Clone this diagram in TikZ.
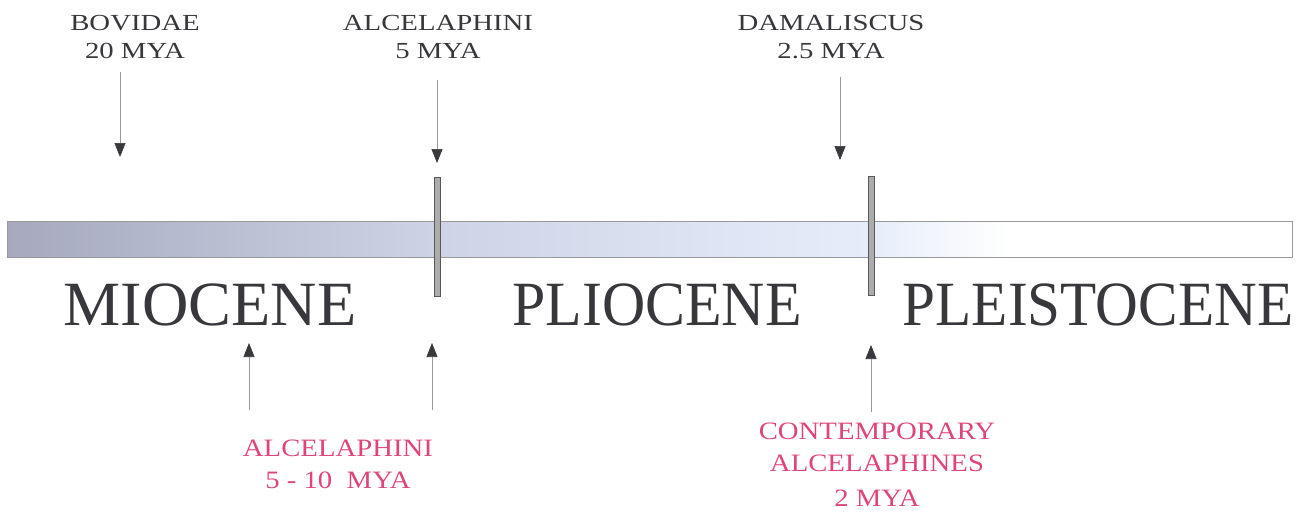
\documentclass[tikz,border=0pt]{standalone}
\usepackage{fontspec}
\setmainfont{Liberation Serif}
\usetikzlibrary{arrows.meta,positioning}
\definecolor{inkgray}{RGB}{55,55,60}
\definecolor{pinklabel}{RGB}{222,70,120}
\definecolor{barleft}{RGB}{166,169,189}
\definecolor{barmid}{RGB}{206,212,230}
\definecolor{barlight}{RGB}{230,237,250}
\pgfdeclarehorizontalshading{timebar}{100bp}{color(0bp)=(barleft); color(25bp)=(barleft);
  color(42bp)=(barmid); color(58.6bp)=(barlight); color(64bp)=(white); color(100bp)=(white)}
\tikzset{
  toplabel/.style={inner sep=0pt, anchor=north, align=center, text=inkgray,
    font=\fontsize{23}{28}\selectfont, xscale=1.25},
  botlabel/.style={inner sep=0pt, anchor=north, align=center, text=pinklabel,
    font=\fontsize{25}{32}\selectfont, xscale=1.15},
  epoch/.style={inner sep=0pt, anchor=base, text=inkgray, font=\fontsize{63}{70}\selectfont},
  pointer/.style={draw=gray!80, line width=0.7pt, -{Triangle[length=14pt,width=11pt,fill=inkgray,color=inkgray]}},
  boundary/.style={draw=gray!70!black, fill=gray!65, line width=0.5pt}
}
\begin{document}
\begin{tikzpicture}[x=1pt, y=-1pt]
      \useasboundingbox (0, 0) rectangle (1309, 523) ;
      \def\barleft{7}
      \def\barright{1292}
      \def\bartop{221}
      \def\barbot{257}

      % time bar
      \shade[shading=timebar] (\barleft, \bartop) rectangle (\barright, \barbot) ;
      \draw[gray!80] (\barleft, \bartop) rectangle (\barright, \barbot) ;

      % epoch boundaries
      \draw[boundary] (434, 177) rectangle (440, 296) ;
      \draw[boundary] (868, 176) rectangle (874, 295) ;

      % epochs
      \node[epoch, xscale=1.02] (miocene) at (210, 325) {MIOCENE} ;
      \node[epoch, xscale=0.95] (pliocene) at (657, 325) {PLIOCENE} ;
      \node[epoch, xscale=0.94] (pleistocene) at (1098, 325) {PLEISTOCENE} ;

      % events above the bar
      \node[toplabel] (bovidae) at (135, 15) {BOVIDAE\\20 MYA} ;
      \node[toplabel] (alcetop) at (438, 15) {ALCELAPHINI\\5 MYA} ;
      \node[toplabel] (damaliscus) at (831, 15) {DAMALISCUS\\2.5 MYA} ;
      \coordinate (bovtail) at (120, 72) ;
      \coordinate (bovtip) at (120, 157) ;
      \coordinate (alcetail) at (437, 80) ;
      \coordinate (alcetip) at (437, 163) ;
      \coordinate (damtail) at (840, 77) ;
      \coordinate (damtip) at (840, 160) ;
      \draw[pointer] (bovtail) -- (bovtip) ;
      \draw[pointer] (alcetail) -- (alcetip) ;
      \draw[pointer] (damtail) -- (damtip) ;

      % events below the bar
      \node[botlabel] (alcebot) at (338, 440) {ALCELAPHINI\\5 - 10~ MYA} ;
      \node[botlabel] (contemp) at (877, 423) {CONTEMPORARY\\ALCELAPHINES\\[3pt]2 MYA} ;
      \coordinate (miotail) at (249, 410) ;
      \coordinate (miotip) at (249, 343) ;
      \coordinate (bndtail) at (432, 410) ;
      \coordinate (bndtip) at (432, 343) ;
      \coordinate (contail) at (871, 412) ;
      \coordinate (contip) at (871, 345) ;
      \draw[pointer] (miotail) -- (miotip) ;
      \draw[pointer] (bndtail) -- (bndtip) ;
      \draw[pointer] (contail) -- (contip) ;
    \end{tikzpicture}
\end{document}
